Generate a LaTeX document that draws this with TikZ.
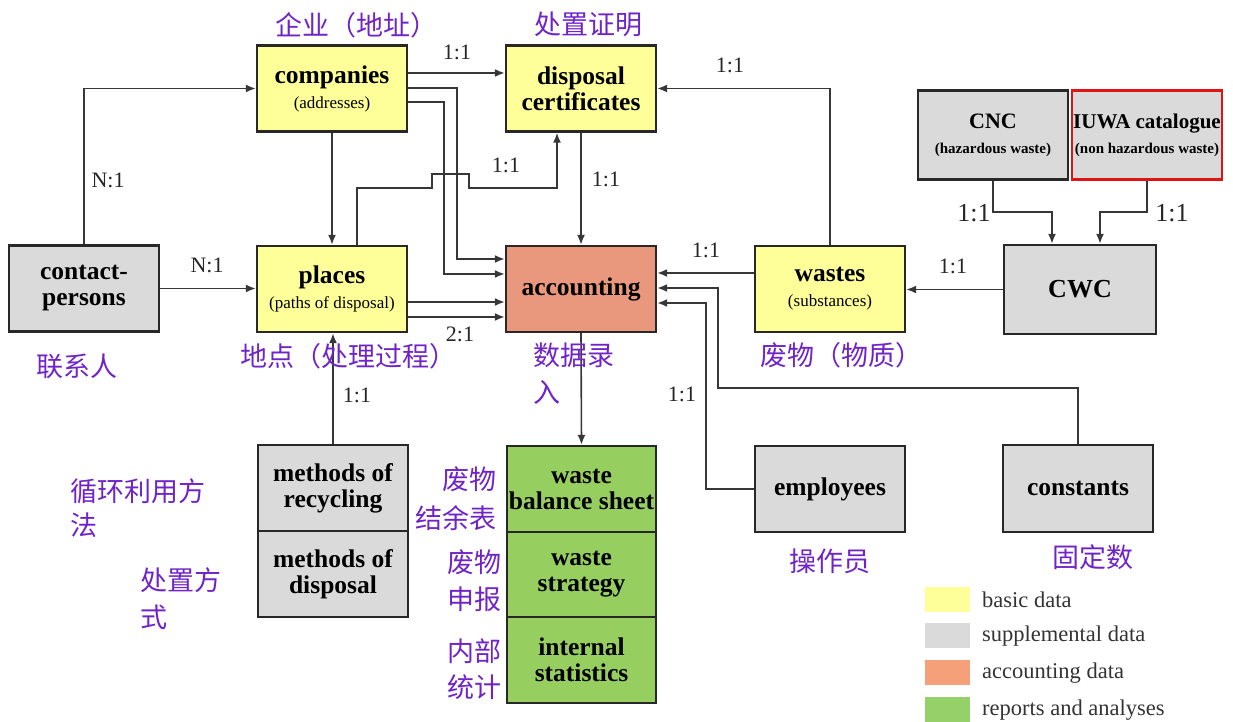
\documentclass[tikz,border=0pt]{standalone}
\usepackage{fontspec}
\setmainfont{Liberation Serif}
\newfontfamily\cjk{Noto Sans CJK SC}
\usetikzlibrary{arrows.meta}
\definecolor{byellow}{RGB}{255,255,153}
\definecolor{bgray}{RGB}{218,218,218}
\definecolor{bsalmon}{RGB}{233,152,125}
\definecolor{bgreen}{RGB}{150,206,96}
\definecolor{lsalmon}{RGB}{246,160,122}
\definecolor{lgreen}{RGB}{150,208,104}
\definecolor{boxline}{RGB}{40,40,40}
\definecolor{linec}{RGB}{55,55,55}
\definecolor{cnpurple}{RGB}{112,36,200}
\definecolor{redline}{RGB}{225,20,20}
\begin{document}
\begin{tikzpicture}[x=1pt,y=-1pt,
  box/.style={draw=boxline, line width=2.4pt, inner sep=0pt, align=center,
    minimum width=150pt, minimum height=86pt,
    font=\bfseries\fontsize{25.5}{26}\selectfont},
  conn/.style={draw=linec, line width=1.6pt, -{Latex[length=10pt,width=8pt]}},
  lbl/.style={font=\fontsize{22}{22}\selectfont, inner sep=0pt, text=black!85},
  cn/.style={font=\cjk\fontsize{27}{37}\selectfont, text=cnpurple, inner sep=0pt},
  swatch/.style={fill, minimum width=45pt, minimum height=25pt, inner sep=0pt},
  legtext/.style={font=\fontsize{22.5}{23}\selectfont, inner sep=0pt, anchor=west, text=black!80}
]
\newcommand{\subt}[1]{{\mdseries\fontsize{17}{18}\selectfont #1}}
\useasboundingbox (0,0) rectangle (1233,722);

% boxes
\node[box, fill=byellow] (companies) at (332,88.5) {companies\\[-1pt]\subt{(addresses)}};
\node[box, fill=byellow] (cert) at (581,88.5) {disposal\\certificates};
\node[box, fill=byellow] (places) at (332,289) {places\\[-1pt]\subt{(paths of disposal)}};
\node[box, fill=bsalmon] (acc) at (581,289) {accounting};
\node[box, fill=bgray] (contact) at (84,288.5) {contact-\\persons};
\node[box, fill=byellow] (wastes) at (830,289) {wastes\\[-1pt]\subt{(substances)}};
\node[box, fill=bgray, minimum width=152pt, minimum height=89pt, font=\bfseries\fontsize{26}{27}\selectfont] (cwc) at (1080,289.5) {CWC};
\node[box, fill=bgray, minimum width=150pt, minimum height=89pt, font=\bfseries\fontsize{22}{24}\selectfont] (cnc) at (993,135) {CNC\\[1pt]{\fontsize{15}{16}\selectfont (hazardous waste)}};
\node[box, fill=bgray, draw=redline, minimum width=150pt, minimum height=89pt, font=\bfseries\fontsize{21}{24}\selectfont] (iuwa) at (1147,135) {IUWA catalogue\\[1pt]{\fontsize{15}{16}\selectfont (non hazardous waste)}};
\node[box, fill=bgray] (recyc) at (333,488) {methods of\\recycling};
\node[box, fill=bgray] (dispm) at (333,574) {methods of\\disposal};
\node[box, fill=bgreen, minimum width=149pt] (wbs) at (581.5,489) {waste\\balance sheet};
\node[box, fill=bgreen, minimum width=149pt, minimum height=85pt] (strat) at (581.5,574.5) {waste\\strategy};
\node[box, fill=bgreen, minimum width=149pt] (stats) at (581.5,660) {internal\\statistics};
\node[box, fill=bgray] (employees) at (830,489) {employees};
\node[box, fill=bgray, minimum height=87pt] (constants) at (1078,488.5) {constants};

% connectors
\draw[conn] (contact.north) |- (companies.west);
\draw[conn] (contact.east) -- (contact.east -| places.west);
\draw[conn] (companies.east |- 0,73) -- (cert.west |- 0,73);
\draw[conn] (companies.south) -- (places.north);
\draw[conn] (companies.east |- 0,88) -| (457,259) -- (acc.west |- 0,259);
\draw[conn] (companies.east |- 0,102) -| (444,274) -- (acc.west |- 0,274);
\draw[conn] (places.east |- 0,302) -- (acc.west |- 0,302);
\draw[conn] (places.east |- 0,317) -- (acc.west |- 0,317);
\draw[conn] (places.north -| 357,0) -- (357,188) -- (432,188) -- (432,174) -- (469,174) -- (469,188) -- (557,188) -- (cert.south -| 557,0);
\draw[conn] (cert.south) -- (acc.north);
\draw[conn] (wastes.north) |- (cert.east);
\draw[conn] (wastes.west |- 0,273) -- (acc.east |- 0,273);
\draw[conn] (cwc.west) -- (cwc.west -| wastes.east);
\draw[conn] (cnc.south) |- (1052,212) -- (cwc.north -| 1052,0);
\draw[conn] (iuwa.south) |- (1100,212) -- (cwc.north -| 1100,0);
\draw[conn] (recyc.north) -- (recyc.north |- places.south);
\draw[conn] (acc.south) -- (wbs.north);
\draw[conn] (constants.north) |- (718,388) -- (718,288) -- (acc.east |- 0,288);
\draw[conn] (employees.west) -| (706,303) -- (acc.east |- 0,303);

% relation labels
\node[lbl] (l1) at (457,52) {1:1};
\node[lbl] (l2) at (108,180) {N:1};
\node[lbl] (l3) at (207,265) {N:1};
\node[lbl] (l4) at (506,165) {1:1};
\node[lbl] (l5) at (606,179) {1:1};
\node[lbl] (l6) at (460,334) {2:1};
\node[lbl] (l7) at (357,395) {1:1};
\node[lbl] (l8) at (730,65) {1:1};
\node[lbl] (l9) at (706,250) {1:1};
\node[lbl] (l10) at (953,266) {1:1};
\node[lbl, font=\fontsize{26}{26}\selectfont] (l11) at (974,213) {1:1};
\node[lbl, font=\fontsize{26}{26}\selectfont] (l12) at (1172,213) {1:1};
\node[lbl] (l13) at (682,394) {1:1};

% Chinese annotations
\node[cn] (c1) at (356,25) {企业（地址）};
\node[cn] (c2) at (588,24) {处置证明};
\node[cn] (c3) at (77,366) {联系人};
\node[cn] (c4) at (348,356) {地点（处理过程）};
\node[cn, align=left, anchor=west] (c5) at (533,373.5) {数据录\\入};
\node[cn] (c6) at (841,355) {废物（物质）};
\node[cn, align=left, anchor=west, font=\cjk\fontsize{27}{34}\selectfont] (c7) at (70,508.5) {循环利用方\\法};
\node[cn, align=left, anchor=west] (c8) at (140,598.5) {处置方\\式};
\node[cn, align=right, anchor=east, font=\cjk\fontsize{27}{39}\selectfont] (c9) at (497,498.5) {废物\\结余表};
\node[cn, align=right, anchor=east] (c10) at (502,580.5) {废物\\申报};
\node[cn, align=right, anchor=east, font=\cjk\fontsize{27}{36}\selectfont] (c11) at (502,669) {内部\\统计};
\node[cn] (c12) at (830,561) {操作员};
\node[cn] (c13) at (1093,557) {固定数};

% legend
\node[swatch, fill=byellow] (s1) at (947.5,599.5) {};
\node[swatch, fill=bgray] (s2) at (947.5,635.5) {};
\node[swatch, fill=lsalmon] (s3) at (947.5,672.5) {};
\node[swatch, fill=lgreen] (s4) at (947.5,709.5) {};
\node[legtext] (t1) at (982,600) {basic data};
\node[legtext] (t2) at (982,636) {supplemental data};
\node[legtext] (t3) at (982,673) {accounting data};
\node[legtext] (t4) at (982,710) {reports and analyses};
\end{tikzpicture}
\end{document}
